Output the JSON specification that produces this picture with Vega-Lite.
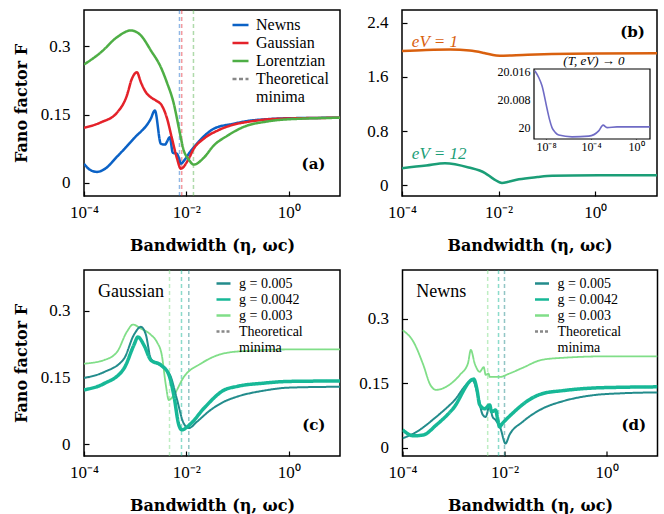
{
"$schema": "https://vega.github.io/schema/vega-lite/v6.json",
"padding": {"left": 12, "top": 8, "right": 5, "bottom": 5},
"config": {
  "view": {"stroke": "black", "strokeWidth": 1.5},
  "font": "Liberation Serif",
  "axis": {"domain": false, "grid": false, "ticks": true, "tickSize": -5, "tickWidth": 1.2, "tickColor": "black", "labelFont": "Liberation Serif", "labelFontSize": 17, "labelColor": "black", "titleFont": "DejaVu Serif", "titleFontWeight": "bold", "titleFontSize": 16, "titleColor": "black"},
  "axisX": {"labelFlush": false, "labelPadding": 13, "titlePadding": 17},
  "axisY": {"labelPadding": 19, "titlePadding": 11},
  "legend": {"title": null, "symbolType": "stroke", "labelFont": "Liberation Serif", "labelColor": "black", "rowPadding": 0}
},
"resolve": {"scale": {"color": "independent", "strokeDash": "independent"}},
"vconcat": [
{"hconcat": [
{
 "width": 256, "height": 186,
 "layer": [
  {"data": {"values": [
    {"series": "Newns", "x": 0.00733},
    {"series": "Gaussian", "x": 0.0081},
    {"series": "Lorentzian", "x": 0.01374}]},
   "mark": {"type": "rule", "strokeDash": [4, 3], "strokeWidth": 1.5, "opacity": 0.45},
   "encoding": {
    "x": {"field": "x", "type": "quantitative", "scale": {"type": "log", "domain": [0.0001, 10], "nice": false}},
    "color": {"condition": [{"test": "datum.series == 'Newns'", "value": "#0b62c6"}, {"test": "datum.series == 'Gaussian'", "value": "#e4222a"}], "value": "#4eae45"}
   }},
  {"data": {"values": [
    {"series": "Newns", "x": 0.0001, "F": 0.042},
    {"series": "Newns", "x": 0.0001259, "F": 0.030},
    {"series": "Newns", "x": 0.0001778, "F": 0.024},
    {"series": "Newns", "x": 0.0002512, "F": 0.030},
    {"series": "Newns", "x": 0.0004467, "F": 0.058},
    {"series": "Newns", "x": 0.0009333, "F": 0.097},
    {"series": "Newns", "x": 0.001995, "F": 0.140},
    {"series": "Newns", "x": 0.002421, "F": 0.159},
    {"series": "Newns", "x": 0.003170, "F": 0.086},
    {"series": "Newns", "x": 0.003793, "F": 0.084},
    {"series": "Newns", "x": 0.004742, "F": 0.100},
    {"series": "Newns", "x": 0.005433, "F": 0.066},
    {"series": "Newns", "x": 0.006501, "F": 0.064},
    {"series": "Newns", "x": 0.007112, "F": 0.055},
    {"series": "Newns", "x": 0.007780, "F": 0.042},
    {"series": "Newns", "x": 0.008892, "F": 0.048},
    {"series": "Newns", "x": 0.01114, "F": 0.064},
    {"series": "Newns", "x": 0.01596, "F": 0.086},
    {"series": "Newns", "x": 0.025, "F": 0.108},
    {"series": "Newns", "x": 0.0342, "F": 0.119},
    {"series": "Newns", "x": 0.08395, "F": 0.130},
    {"series": "Newns", "x": 0.1585, "F": 0.136},
    {"series": "Newns", "x": 0.3864, "F": 0.140},
    {"series": "Newns", "x": 1, "F": 0.142},
    {"series": "Newns", "x": 10, "F": 0.143},
    {"series": "Gaussian", "x": 0.0001, "F": 0.121},
    {"series": "Gaussian", "x": 0.0002143, "F": 0.133},
    {"series": "Gaussian", "x": 0.0004395, "F": 0.154},
    {"series": "Gaussian", "x": 0.0006887, "F": 0.192},
    {"series": "Gaussian", "x": 0.000863, "F": 0.229},
    {"series": "Gaussian", "x": 0.001079, "F": 0.243},
    {"series": "Gaussian", "x": 0.001291, "F": 0.221},
    {"series": "Gaussian", "x": 0.001618, "F": 0.199},
    {"series": "Gaussian", "x": 0.002023, "F": 0.188},
    {"series": "Gaussian", "x": 0.002535, "F": 0.181},
    {"series": "Gaussian", "x": 0.003311, "F": 0.170},
    {"series": "Gaussian", "x": 0.00415, "F": 0.143},
    {"series": "Gaussian", "x": 0.005188, "F": 0.099},
    {"series": "Gaussian", "x": 0.006501, "F": 0.055},
    {"series": "Gaussian", "x": 0.00778, "F": 0.031},
    {"series": "Gaussian", "x": 0.01064, "F": 0.049},
    {"series": "Gaussian", "x": 0.01393, "F": 0.075},
    {"series": "Gaussian", "x": 0.02183, "F": 0.097},
    {"series": "Gaussian", "x": 0.04093, "F": 0.115},
    {"series": "Gaussian", "x": 0.08395, "F": 0.128},
    {"series": "Gaussian", "x": 0.1574, "F": 0.134},
    {"series": "Gaussian", "x": 0.4416, "F": 0.140},
    {"series": "Gaussian", "x": 1.698, "F": 0.142},
    {"series": "Gaussian", "x": 10, "F": 0.143},
    {"series": "Lorentzian", "x": 0.0001, "F": 0.260},
    {"series": "Lorentzian", "x": 0.0002143, "F": 0.287},
    {"series": "Lorentzian", "x": 0.0004395, "F": 0.320},
    {"series": "Lorentzian", "x": 0.0008241, "F": 0.335},
    {"series": "Lorentzian", "x": 0.001291, "F": 0.324},
    {"series": "Lorentzian", "x": 0.002023, "F": 0.291},
    {"series": "Lorentzian", "x": 0.00317, "F": 0.254},
    {"series": "Lorentzian", "x": 0.00415, "F": 0.221},
    {"series": "Lorentzian", "x": 0.005675, "F": 0.174},
    {"series": "Lorentzian", "x": 0.007112, "F": 0.121},
    {"series": "Lorentzian", "x": 0.008892, "F": 0.071},
    {"series": "Lorentzian", "x": 0.01114, "F": 0.051},
    {"series": "Lorentzian", "x": 0.01393, "F": 0.040},
    {"series": "Lorentzian", "x": 0.02183, "F": 0.055},
    {"series": "Lorentzian", "x": 0.0342, "F": 0.082},
    {"series": "Lorentzian", "x": 0.06412, "F": 0.104},
    {"series": "Lorentzian", "x": 0.1315, "F": 0.123},
    {"series": "Lorentzian", "x": 0.3864, "F": 0.135},
    {"series": "Lorentzian", "x": 1.698, "F": 0.141},
    {"series": "Lorentzian", "x": 10, "F": 0.143}]},
   "mark": {"type": "line", "strokeWidth": 2.5, "interpolate": "monotone", "clip": true},
   "encoding": {
    "x": {"field": "x", "type": "quantitative", "scale": {"type": "log", "domain": [0.0001, 10], "nice": false},
      "axis": {"values": [0.0001, 0.01, 1], "labelExpr": "datum.value < 0.001 ? '10⁻⁴' : datum.value < 0.5 ? '10⁻²' : '10⁰'", "title": "Bandwidth (η, ωc)"}},
    "y": {"field": "F", "type": "quantitative", "scale": {"domain": [-0.029, 0.38], "nice": false, "zero": false},
      "axis": {"values": [0, 0.15, 0.3], "format": ".2~f", "title": "Fano factor F"}},
    "color": {"field": "series", "type": "nominal", "scale": {"domain": ["Newns", "Gaussian", "Lorentzian", "Theoretical minima"], "range": ["#0b62c6", "#e4222a", "#4eae45", "#888888"]},
      "legend": {"orient": "none", "legendX": 147, "legendY": 5.5, "symbolSize": 256, "symbolStrokeWidth": 2.5, "labelOffset": 6, "labelFontSize": 16, "labelExpr": "datum.label == 'Theoretical minima' ? ['Theoretical', 'minima'] : datum.label"}},
    "strokeDash": {"field": "series", "type": "nominal", "scale": {"domain": ["Newns", "Gaussian", "Lorentzian", "Theoretical minima"], "range": [[1, 0], [1, 0], [1, 0], [4, 2.5]]},
      "legend": {"orient": "none", "legendX": 147, "legendY": 5.5, "symbolSize": 256, "symbolStrokeWidth": 2.5, "labelOffset": 6, "labelFontSize": 16, "labelExpr": "datum.label == 'Theoretical minima' ? ['Theoretical', 'minima'] : datum.label"}}
   }},
  {"data": {"values": [{"label": "(a)"}]},
   "mark": {"type": "text", "font": "DejaVu Serif", "fontWeight": "bold", "fontSize": 15, "align": "right", "baseline": "middle"},
   "encoding": {"x": {"datum": 5.2, "type": "quantitative"}, "y": {"datum": 0.042, "type": "quantitative"}, "text": {"field": "label"}}}
 ]
},
{
 "width": 255, "height": 186,
 "layer": [
  {"layer": [
   {"data": {"values": [
    {"series": "eV = 1", "x": 0.0001, "F": 1.983},
    {"series": "eV = 1", "x": 0.0003162, "F": 1.998},
    {"series": "eV = 1", "x": 0.001, "F": 2.005},
    {"series": "eV = 1", "x": 0.002512, "F": 1.99},
    {"series": "eV = 1", "x": 0.005012, "F": 1.955},
    {"series": "eV = 1", "x": 0.008913, "F": 1.918},
    {"series": "eV = 1", "x": 0.01259, "F": 1.915},
    {"series": "eV = 1", "x": 0.03162, "F": 1.925},
    {"series": "eV = 1", "x": 0.1259, "F": 1.939},
    {"series": "eV = 1", "x": 1, "F": 1.947},
    {"series": "eV = 1", "x": 19, "F": 1.949},
    {"series": "eV = 12", "x": 0.0001, "F": 0.252},
    {"series": "eV = 12", "x": 0.0003162, "F": 0.29},
    {"series": "eV = 12", "x": 0.0007762, "F": 0.325},
    {"series": "eV = 12", "x": 0.002399, "F": 0.262},
    {"series": "eV = 12", "x": 0.005248, "F": 0.179},
    {"series": "eV = 12", "x": 0.007943, "F": 0.09},
    {"series": "eV = 12", "x": 0.01175, "F": 0.034},
    {"series": "eV = 12", "x": 0.01585, "F": 0.05},
    {"series": "eV = 12", "x": 0.0263, "F": 0.087},
    {"series": "eV = 12", "x": 0.0631, "F": 0.12},
    {"series": "eV = 12", "x": 0.1288, "F": 0.138},
    {"series": "eV = 12", "x": 1.202, "F": 0.145},
    {"series": "eV = 12", "x": 19, "F": 0.147}]},
    "mark": {"type": "line", "strokeWidth": 2.5, "interpolate": "monotone", "clip": true},
    "encoding": {
     "x": {"field": "x", "type": "quantitative", "scale": {"type": "log", "domain": [0.0001, 19], "nice": false},
       "axis": {"values": [0.0001, 0.01, 1], "labelExpr": "datum.value < 0.001 ? '10⁻⁴' : datum.value < 0.5 ? '10⁻²' : '10⁰'", "title": "Bandwidth (η, ωc)"}},
     "y": {"field": "F", "type": "quantitative", "scale": {"domain": [-0.16, 2.59], "nice": false, "zero": false},
       "axis": {"values": [0, 0.8, 1.6, 2.4], "format": ".1~f", "title": null}},
     "color": {"field": "series", "type": "nominal", "scale": {"domain": ["eV = 1", "eV = 12"], "range": ["#d9600e", "#1b9e77"]}, "legend": null}
    }},
   {"data": {"values": [{"series": "eV = 1"}]},
    "mark": {"type": "text", "font": "Liberation Serif", "fontStyle": "italic", "fontSize": 17, "align": "left", "baseline": "alphabetic"},
    "encoding": {"x": {"datum": 0.00016, "type": "quantitative"}, "y": {"datum": 2.05, "type": "quantitative"}, "text": {"field": "series"},
      "color": {"field": "series", "type": "nominal", "scale": {"domain": ["eV = 1", "eV = 12"], "range": ["#d9600e", "#1b9e77"]}, "legend": null}}},
   {"data": {"values": [{"series": "eV = 12"}]},
    "mark": {"type": "text", "font": "Liberation Serif", "fontStyle": "italic", "fontSize": 17, "align": "left", "baseline": "alphabetic"},
    "encoding": {"x": {"datum": 0.00016, "type": "quantitative"}, "y": {"datum": 0.393, "type": "quantitative"}, "text": {"field": "series"},
      "color": {"field": "series", "type": "nominal", "scale": {"domain": ["eV = 1", "eV = 12"], "range": ["#d9600e", "#1b9e77"]}, "legend": null}}},
   {"data": {"values": [{"label": "(b)"}]},
    "mark": {"type": "text", "font": "DejaVu Serif", "fontWeight": "bold", "fontSize": 15, "align": "right", "baseline": "middle"},
    "encoding": {"x": {"datum": 10.7, "type": "quantitative"}, "y": {"datum": 2.27, "type": "quantitative"}, "text": {"field": "label"}}}
  ]},
  {"layer": [
   {"data": {"values": [{"part": "frame"}]},
    "mark": {"type": "rect", "fill": "white", "stroke": "black", "strokeWidth": 1.2},
    "encoding": {
     "x": {"datum": 8.5e-10, "type": "quantitative", "scale": {"type": "log", "domain": [8.5e-10, 17.4], "range": [132, 248], "nice": false},
       "axis": {"orient": "bottom", "offset": -57, "values": [1e-8, 0.0001, 1], "labelExpr": "datum.value < 1e-6 ? '10⁻⁸' : datum.value < 0.01 ? '10⁻⁴' : '10⁰'", "labelFontSize": 12, "tickSize": -3, "labelPadding": 5, "title": null}},
     "x2": {"datum": 17.4},
     "y": {"datum": 19.9969, "type": "quantitative", "scale": {"domain": [19.9969, 20.0166], "range": [129, 59], "nice": false, "zero": false},
       "axis": {"orient": "left", "offset": -132, "values": [20, 20.008, 20.016], "format": ".3~f", "labelFontSize": 12, "tickSize": -3, "labelPadding": 7, "title": null}},
     "y2": {"datum": 20.0166}
    }},
   {"data": {"values": [
    {"x": 1e-9, "F": 20.0161},
    {"x": 2.239e-9, "F": 20.0142},
    {"x": 4.365e-9, "F": 20.0119},
    {"x": 1.23e-8, "F": 20.0054},
    {"x": 1.995e-8, "F": 20.0025},
    {"x": 3.388e-8, "F": 20.0001},
    {"x": 6.761e-8, "F": 19.9987},
    {"x": 1.349e-7, "F": 19.998},
    {"x": 2.042e-6, "F": 19.9975},
    {"x": 6.31e-5, "F": 19.9977},
    {"x": 0.0004786, "F": 19.9992},
    {"x": 0.001175, "F": 20.0008},
    {"x": 0.00263, "F": 20.0001},
    {"x": 0.02042, "F": 20.0003},
    {"x": 17.38, "F": 20.0003}]},
    "mark": {"type": "line", "strokeWidth": 1.6, "color": "#6f6bc5", "interpolate": "monotone"},
    "encoding": {
     "x": {"field": "x", "type": "quantitative", "scale": {"type": "log", "domain": [8.5e-10, 17.4], "range": [132, 248], "nice": false},
       "axis": {"orient": "bottom", "offset": -57, "values": [1e-8, 0.0001, 1], "labelExpr": "datum.value < 1e-6 ? '10⁻⁸' : datum.value < 0.01 ? '10⁻⁴' : '10⁰'", "labelFontSize": 12, "tickSize": -3, "labelPadding": 5, "title": null}},
     "y": {"field": "F", "type": "quantitative", "scale": {"domain": [19.9969, 20.0166], "range": [129, 59], "nice": false, "zero": false},
       "axis": {"orient": "left", "offset": -132, "values": [20, 20.008, 20.016], "format": ".3~f", "labelFontSize": 12, "tickSize": -3, "labelPadding": 7, "title": null}}
    }},
   {"data": {"values": [{"label": "(T, eV) → 0"}]},
    "mark": {"type": "text", "font": "Liberation Serif", "fontStyle": "italic", "fontSize": 13, "align": "center", "baseline": "bottom"},
    "encoding": {"x": {"datum": 0.00018, "type": "quantitative"}, "y": {"datum": 20.0169, "type": "quantitative"}, "text": {"field": "label"}}}
  ]}
 ],
 "resolve": {"scale": {"x": "independent", "y": "independent"}}
}
], "spacing": 25, "resolve": {"scale": {"color": "independent", "strokeDash": "independent"}}},
{"hconcat": [
{
 "width": 256, "height": 186,
 "layer": [
  {"data": {"values": [
    {"series": "g = 0.003", "x": 0.00468},
    {"series": "g = 0.0042", "x": 0.00802},
    {"series": "g = 0.005", "x": 0.01114}]},
   "mark": {"type": "rule", "strokeDash": [4, 3], "strokeWidth": 1.5, "opacity": 0.5},
   "encoding": {
    "x": {"field": "x", "type": "quantitative", "scale": {"type": "log", "domain": [0.0001, 10], "nice": false}},
    "color": {"condition": [{"test": "datum.series == 'g = 0.003'", "value": "#80de88"}, {"test": "datum.series == 'g = 0.0042'", "value": "#17b897"}], "value": "#238c8c"}
   }},
  {"data": {"values": [
    {"series": "g = 0.003", "x": 0.0001, "F": 0.181},
    {"series": "g = 0.003", "x": 0.0002455, "F": 0.189},
    {"series": "g = 0.003", "x": 0.0004395, "F": 0.207},
    {"series": "g = 0.003", "x": 0.0006887, "F": 0.253},
    {"series": "g = 0.003", "x": 0.0009016, "F": 0.269},
    {"series": "g = 0.003", "x": 0.001291, "F": 0.26},
    {"series": "g = 0.003", "x": 0.002023, "F": 0.246},
    {"series": "g = 0.003", "x": 0.002649, "F": 0.23},
    {"series": "g = 0.003", "x": 0.003311, "F": 0.20},
    {"series": "g = 0.003", "x": 0.003963, "F": 0.133},
    {"series": "g = 0.003", "x": 0.004539, "F": 0.099},
    {"series": "g = 0.003", "x": 0.005675, "F": 0.11},
    {"series": "g = 0.003", "x": 0.008892, "F": 0.151},
    {"series": "g = 0.003", "x": 0.0191, "F": 0.181},
    {"series": "g = 0.003", "x": 0.05358, "F": 0.204},
    {"series": "g = 0.003", "x": 0.1585, "F": 0.21},
    {"series": "g = 0.003", "x": 1, "F": 0.213},
    {"series": "g = 0.003", "x": 10, "F": 0.213},
    {"series": "g = 0.005", "x": 0.0001, "F": 0.149},
    {"series": "g = 0.005", "x": 0.0002455, "F": 0.162},
    {"series": "g = 0.005", "x": 0.0006026, "F": 0.192},
    {"series": "g = 0.005", "x": 0.0009441, "F": 0.246},
    {"series": "g = 0.005", "x": 0.001291, "F": 0.264},
    {"series": "g = 0.005", "x": 0.001618, "F": 0.246},
    {"series": "g = 0.005", "x": 0.002023, "F": 0.192},
    {"series": "g = 0.005", "x": 0.002535, "F": 0.183},
    {"series": "g = 0.005", "x": 0.003622, "F": 0.171},
    {"series": "g = 0.005", "x": 0.004966, "F": 0.151},
    {"series": "g = 0.005", "x": 0.006501, "F": 0.102},
    {"series": "g = 0.005", "x": 0.008892, "F": 0.046},
    {"series": "g = 0.005", "x": 0.01114, "F": 0.036},
    {"series": "g = 0.005", "x": 0.01596, "F": 0.050},
    {"series": "g = 0.005", "x": 0.02992, "F": 0.077},
    {"series": "g = 0.005", "x": 0.05358, "F": 0.095},
    {"series": "g = 0.005", "x": 0.1, "F": 0.107},
    {"series": "g = 0.005", "x": 0.3162, "F": 0.12},
    {"series": "g = 0.005", "x": 1, "F": 0.127},
    {"series": "g = 0.005", "x": 10, "F": 0.129},
    {"series": "g = 0.0042", "x": 0.0001, "F": 0.122},
    {"series": "g = 0.0042", "x": 0.0002455, "F": 0.136},
    {"series": "g = 0.0042", "x": 0.0006026, "F": 0.17},
    {"series": "g = 0.0042", "x": 0.0009441, "F": 0.223},
    {"series": "g = 0.0042", "x": 0.00113, "F": 0.241},
    {"series": "g = 0.0042", "x": 0.001479, "F": 0.223},
    {"series": "g = 0.0042", "x": 0.002023, "F": 0.189},
    {"series": "g = 0.0042", "x": 0.00317, "F": 0.178},
    {"series": "g = 0.0042", "x": 0.004539, "F": 0.156},
    {"series": "g = 0.0042", "x": 0.005675, "F": 0.11},
    {"series": "g = 0.0042", "x": 0.007112, "F": 0.043},
    {"series": "g = 0.0042", "x": 0.008128, "F": 0.032},
    {"series": "g = 0.0042", "x": 0.01219, "F": 0.046},
    {"series": "g = 0.0042", "x": 0.02183, "F": 0.08},
    {"series": "g = 0.0042", "x": 0.05358, "F": 0.121},
    {"series": "g = 0.0042", "x": 0.1, "F": 0.13},
    {"series": "g = 0.0042", "x": 0.3162, "F": 0.137},
    {"series": "g = 0.0042", "x": 1, "F": 0.141},
    {"series": "g = 0.0042", "x": 10, "F": 0.142}]},
   "mark": {"type": "line", "interpolate": "monotone", "clip": true},
   "encoding": {
    "x": {"field": "x", "type": "quantitative", "scale": {"type": "log", "domain": [0.0001, 10], "nice": false},
      "axis": {"values": [0.0001, 0.01, 1], "labelExpr": "datum.value < 0.001 ? '10⁻⁴' : datum.value < 0.5 ? '10⁻²' : '10⁰'", "title": "Bandwidth (η, ωc)"}},
    "y": {"field": "F", "type": "quantitative", "scale": {"domain": [-0.027, 0.392], "nice": false, "zero": false},
      "axis": {"values": [0, 0.15, 0.3], "format": ".2~f", "title": "Fano factor F"}},
    "color": {"field": "series", "type": "nominal", "scale": {"domain": ["g = 0.005", "g = 0.0042", "g = 0.003", "Theoretical minima"], "range": ["#238c8c", "#17b897", "#80de88", "#888888"]},
      "legend": {"orient": "none", "legendX": 131, "legendY": 5, "symbolSize": 196, "symbolStrokeWidth": 2.4, "labelOffset": 7, "labelFontSize": 14, "labelExpr": "datum.label == 'Theoretical minima' ? ['Theoretical', 'minima'] : datum.label"}},
    "strokeDash": {"field": "series", "type": "nominal", "scale": {"domain": ["g = 0.005", "g = 0.0042", "g = 0.003", "Theoretical minima"], "range": [[1, 0], [1, 0], [1, 0], [3, 2]]},
      "legend": {"orient": "none", "legendX": 131, "legendY": 5, "symbolSize": 196, "symbolStrokeWidth": 2.4, "labelOffset": 7, "labelFontSize": 14, "labelExpr": "datum.label == 'Theoretical minima' ? ['Theoretical', 'minima'] : datum.label"}},
    "strokeWidth": {"condition": [{"test": "datum.series == 'g = 0.0042'", "value": 3.5}, {"test": "datum.series == 'g = 0.005'", "value": 2}], "value": 1.8}
   }},
  {"data": {"values": [{"label": "Gaussian"}]},
   "mark": {"type": "text", "font": "Liberation Serif", "fontSize": 18, "align": "left", "baseline": "middle"},
   "encoding": {"x": {"datum": 0.000187, "type": "quantitative"}, "y": {"datum": 0.343, "type": "quantitative"}, "text": {"field": "label"}}},
  {"data": {"values": [{"label": "(c)"}]},
   "mark": {"type": "text", "font": "DejaVu Serif", "fontWeight": "bold", "fontSize": 15, "align": "right", "baseline": "middle"},
   "encoding": {"x": {"datum": 5.2, "type": "quantitative"}, "y": {"datum": 0.043, "type": "quantitative"}, "text": {"field": "label"}}}
 ]
},
{
 "width": 255, "height": 186,
 "layer": [
  {"data": {"values": [
    {"series": "g = 0.003", "x": 0.00468},
    {"series": "g = 0.0042", "x": 0.00764},
    {"series": "g = 0.005", "x": 0.01}]},
   "mark": {"type": "rule", "strokeDash": [4, 3], "strokeWidth": 1.5, "opacity": 0.5},
   "encoding": {
    "x": {"field": "x", "type": "quantitative", "scale": {"type": "log", "domain": [0.0001, 10], "nice": false}},
    "color": {"condition": [{"test": "datum.series == 'g = 0.003'", "value": "#80de88"}, {"test": "datum.series == 'g = 0.0042'", "value": "#17b897"}], "value": "#238c8c"}
   }},
  {"data": {"values": [
    {"series": "g = 0.003", "x": 0.0001, "F": 0.274},
    {"series": "g = 0.003", "x": 0.0001637, "F": 0.247},
    {"series": "g = 0.003", "x": 0.0002559, "F": 0.193},
    {"series": "g = 0.003", "x": 0.0003499, "F": 0.147},
    {"series": "g = 0.003", "x": 0.0004571, "F": 0.135},
    {"series": "g = 0.003", "x": 0.0007145, "F": 0.142},
    {"series": "g = 0.003", "x": 0.001337, "F": 0.17},
    {"series": "g = 0.003", "x": 0.001914, "F": 0.196},
    {"series": "g = 0.003", "x": 0.002188, "F": 0.228},
    {"series": "g = 0.003", "x": 0.002612, "F": 0.196},
    {"series": "g = 0.003", "x": 0.003273, "F": 0.177},
    {"series": "g = 0.003", "x": 0.003908, "F": 0.188},
    {"series": "g = 0.003", "x": 0.004276, "F": 0.17},
    {"series": "g = 0.003", "x": 0.004887, "F": 0.173},
    {"series": "g = 0.003", "x": 0.005117, "F": 0.165},
    {"series": "g = 0.003", "x": 0.007998, "F": 0.165},
    {"series": "g = 0.003", "x": 0.0125, "F": 0.173},
    {"series": "g = 0.003", "x": 0.02239, "F": 0.186},
    {"series": "g = 0.003", "x": 0.0547, "F": 0.205},
    {"series": "g = 0.003", "x": 0.1585, "F": 0.21},
    {"series": "g = 0.003", "x": 1, "F": 0.213},
    {"series": "g = 0.003", "x": 10, "F": 0.213},
    {"series": "g = 0.005", "x": 0.0001, "F": 0.022},
    {"series": "g = 0.005", "x": 0.0001871, "F": 0.037},
    {"series": "g = 0.005", "x": 0.0004571, "F": 0.072},
    {"series": "g = 0.005", "x": 0.0009772, "F": 0.107},
    {"series": "g = 0.005", "x": 0.002393, "F": 0.157},
    {"series": "g = 0.005", "x": 0.002992, "F": 0.123},
    {"series": "g = 0.005", "x": 0.003741, "F": 0.077},
    {"series": "g = 0.005", "x": 0.004276, "F": 0.072},
    {"series": "g = 0.005", "x": 0.005117, "F": 0.10},
    {"series": "g = 0.005", "x": 0.005848, "F": 0.072},
    {"series": "g = 0.005", "x": 0.006683, "F": 0.065},
    {"series": "g = 0.005", "x": 0.008356, "F": 0.045},
    {"series": "g = 0.005", "x": 0.01047, "F": 0.010},
    {"series": "g = 0.005", "x": 0.0125, "F": 0.030},
    {"series": "g = 0.005", "x": 0.02239, "F": 0.060},
    {"series": "g = 0.005", "x": 0.0547, "F": 0.091},
    {"series": "g = 0.005", "x": 0.1349, "F": 0.108},
    {"series": "g = 0.005", "x": 0.5012, "F": 0.122},
    {"series": "g = 0.005", "x": 1.995, "F": 0.127},
    {"series": "g = 0.005", "x": 10, "F": 0.129},
    {"series": "g = 0.0042", "x": 0.0001, "F": 0.042},
    {"series": "g = 0.0042", "x": 0.0001637, "F": 0.028},
    {"series": "g = 0.0042", "x": 0.0002559, "F": 0.030},
    {"series": "g = 0.0042", "x": 0.0004571, "F": 0.053},
    {"series": "g = 0.0042", "x": 0.0009772, "F": 0.091},
    {"series": "g = 0.0042", "x": 0.0025, "F": 0.16},
    {"series": "g = 0.0042", "x": 0.002858, "F": 0.138},
    {"series": "g = 0.0042", "x": 0.003273, "F": 0.10},
    {"series": "g = 0.0042", "x": 0.004093, "F": 0.091},
    {"series": "g = 0.0042", "x": 0.005117, "F": 0.10},
    {"series": "g = 0.0042", "x": 0.005598, "F": 0.084},
    {"series": "g = 0.0042", "x": 0.006683, "F": 0.088},
    {"series": "g = 0.0042", "x": 0.007311, "F": 0.068},
    {"series": "g = 0.0042", "x": 0.007998, "F": 0.049},
    {"series": "g = 0.0042", "x": 0.009141, "F": 0.057},
    {"series": "g = 0.0042", "x": 0.01429, "F": 0.08},
    {"series": "g = 0.0042", "x": 0.03055, "F": 0.112},
    {"series": "g = 0.0042", "x": 0.0547, "F": 0.126},
    {"series": "g = 0.0042", "x": 0.1349, "F": 0.133},
    {"series": "g = 0.0042", "x": 0.5012, "F": 0.139},
    {"series": "g = 0.0042", "x": 1.995, "F": 0.141},
    {"series": "g = 0.0042", "x": 10, "F": 0.142}]},
   "mark": {"type": "line", "interpolate": "monotone", "clip": true},
   "encoding": {
    "x": {"field": "x", "type": "quantitative", "scale": {"type": "log", "domain": [0.0001, 10], "nice": false},
      "axis": {"values": [0.0001, 0.01, 1], "labelExpr": "datum.value < 0.001 ? '10⁻⁴' : datum.value < 0.5 ? '10⁻²' : '10⁰'", "title": "Bandwidth (η, ωc)"}},
    "y": {"field": "F", "type": "quantitative", "scale": {"domain": [-0.019, 0.414], "nice": false, "zero": false},
      "axis": {"values": [0, 0.15, 0.3], "format": ".2~f", "title": null}},
    "color": {"field": "series", "type": "nominal", "scale": {"domain": ["g = 0.005", "g = 0.0042", "g = 0.003", "Theoretical minima"], "range": ["#238c8c", "#17b897", "#80de88", "#888888"]},
      "legend": {"orient": "none", "legendX": 131, "legendY": 5, "symbolSize": 196, "symbolStrokeWidth": 2.4, "labelOffset": 7, "labelFontSize": 14, "labelExpr": "datum.label == 'Theoretical minima' ? ['Theoretical', 'minima'] : datum.label"}},
    "strokeDash": {"field": "series", "type": "nominal", "scale": {"domain": ["g = 0.005", "g = 0.0042", "g = 0.003", "Theoretical minima"], "range": [[1, 0], [1, 0], [1, 0], [3, 2]]},
      "legend": {"orient": "none", "legendX": 131, "legendY": 5, "symbolSize": 196, "symbolStrokeWidth": 2.4, "labelOffset": 7, "labelFontSize": 14, "labelExpr": "datum.label == 'Theoretical minima' ? ['Theoretical', 'minima'] : datum.label"}},
    "strokeWidth": {"condition": [{"test": "datum.series == 'g = 0.0042'", "value": 3.5}, {"test": "datum.series == 'g = 0.005'", "value": 2}], "value": 1.8}
   }},
  {"data": {"values": [{"label": "Newns"}]},
   "mark": {"type": "text", "font": "Liberation Serif", "fontSize": 18, "align": "left", "baseline": "middle"},
   "encoding": {"x": {"datum": 0.000187, "type": "quantitative"}, "y": {"datum": 0.362, "type": "quantitative"}, "text": {"field": "label"}}},
  {"data": {"values": [{"label": "(d)"}]},
   "mark": {"type": "text", "font": "DejaVu Serif", "fontWeight": "bold", "fontSize": 15, "align": "right", "baseline": "middle"},
   "encoding": {"x": {"datum": 6.0, "type": "quantitative"}, "y": {"datum": 0.0535, "type": "quantitative"}, "text": {"field": "label"}}}
 ]
}
], "spacing": 16.5, "resolve": {"scale": {"color": "independent", "strokeDash": "independent"}}}
], "spacing": 14
}
